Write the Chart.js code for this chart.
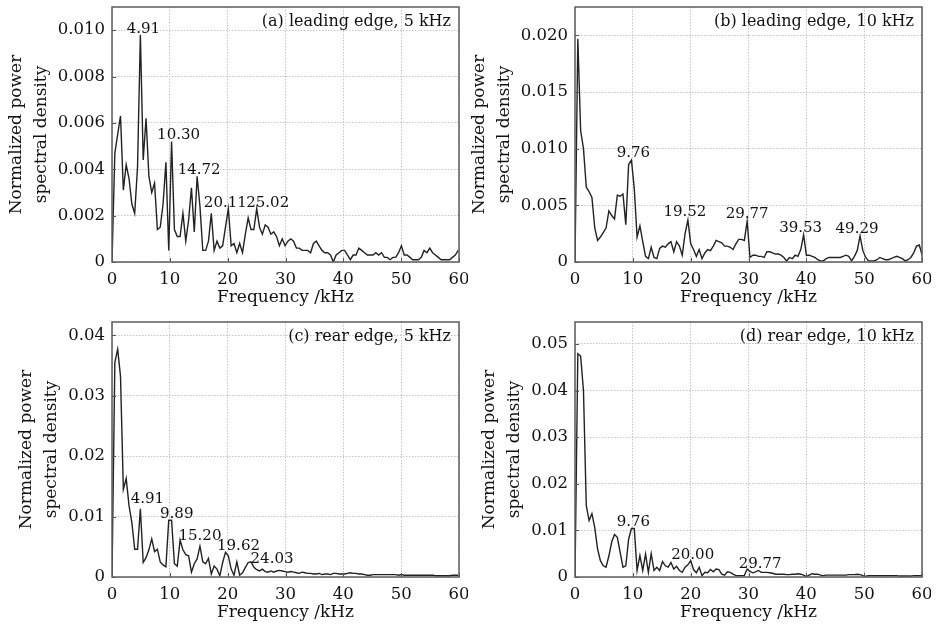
<!DOCTYPE html>
<html>
<head>
<meta charset="utf-8">
<script src="https://cdn.jsdelivr.net/npm/chart.js@4.4.0/dist/chart.umd.min.js"></script>
<style>
  body { margin: 0; background: #fff; }
  .panel { position: absolute; width: 468px; height: 311px; }
</style>
</head>
<body>
<div class="panel" style="left:0;top:0"><canvas id="chartA" width="468" height="311"></canvas></div>
<div class="panel" style="left:463px;top:0"><canvas id="chartB" width="468" height="311"></canvas></div>
<div class="panel" style="left:0;top:315px"><canvas id="chartC" width="468" height="311"></canvas></div>
<div class="panel" style="left:463px;top:315px"><canvas id="chartD" width="468" height="311"></canvas></div>
<script>
// frequency bin widths (kHz)
const binA = 0.4906, binB = 0.488, binC = 0.4906, binD = 0.488;

// normalized PSD, one value per frequency bin
const psdA = [0, 0.0047, 0.0055, 0.0063, 0.0031, 0.0042, 0.0036, 0.0025, 0.0021, 0.0041,
  0.0098, 0.0044, 0.0062, 0.0037, 0.0030, 0.0034, 0.0014, 0.0015, 0.0025, 0.0043,
  0.0005, 0.0052, 0.0014, 0.0011, 0.0011, 0.0021, 0.0009, 0.0018, 0.0032, 0.0013,
  0.0037, 0.0024, 0.0005, 0.0005, 0.0009, 0.0021, 0.0005, 0.0009, 0.0006, 0.0007,
  0.0015, 0.0023, 0.0007, 0.0008, 0.0004, 0.0008, 0.0004, 0.0012, 0.0019, 0.0014,
  0.0014, 0.0023, 0.0015, 0.0012, 0.0016, 0.0015, 0.0012, 0.0013, 0.0011, 0.0007,
  0.0010, 0.0007, 0.0009, 0.0010, 0.0009, 0.0006, 0.0006, 0.0005, 0.0005, 0.0005,
  0.0004, 0.0008, 0.0009, 0.0007, 0.0005, 0.0004, 0.0004, 0.0003, 0.0000, 0.0003,
  0.0004, 0.0005, 0.0005, 0.0003, 0.0001, 0.0003, 0.0003, 0.0006, 0.0005, 0.0004,
  0.0003, 0.0003, 0.0003, 0.0004, 0.0003, 0.0004, 0.0002, 0.0002, 0.0001, 0.0002,
  0.0002, 0.0004, 0.0007, 0.0003, 0.0003, 0.0002, 0.0001, 0.0001, 0.0001, 0.0002,
  0.0005, 0.0004, 0.0006, 0.0004, 0.0003, 0.0002, 0.0001, 0.0001, 0.0001, 0.0001,
  0.0002, 0.0003, 0.0005];

const psdB = [0, 0.0197, 0.0116, 0.0100, 0.0066, 0.0062, 0.0057, 0.0030, 0.0019, 0.0022,
  0.0026, 0.0030, 0.0045, 0.0041, 0.0038, 0.0059, 0.0058, 0.0060, 0.0033, 0.0086,
  0.0090, 0.0065, 0.0022, 0.0032, 0.0018, 0.0005, 0.0003, 0.0013, 0.0004, 0.0003,
  0.0012, 0.0014, 0.0013, 0.0016, 0.0018, 0.0009, 0.0018, 0.0014, 0.0006, 0.0025,
  0.0037, 0.0016, 0.0011, 0.0005, 0.0011, 0.0003, 0.0008, 0.0011, 0.0010, 0.0014,
  0.0019, 0.0018, 0.0017, 0.0014, 0.0014, 0.0013, 0.0011, 0.0016, 0.0020, 0.0020,
  0.0019, 0.0036, 0.0004, 0.0006, 0.0006, 0.0005, 0.0005, 0.0004, 0.0009, 0.0009,
  0.0008, 0.0007, 0.0007, 0.0006, 0.0004, 0.0001, 0.0004, 0.0003, 0.0006, 0.0005,
  0.0011, 0.0024, 0.0006, 0.0006, 0.0005, 0.0004, 0.0002, 0.0001, 0.0001, 0.0003,
  0.0004, 0.0004, 0.0004, 0.0004, 0.0004, 0.0005, 0.0006, 0.0005, 0.0001, 0.0005,
  0.0010, 0.0023, 0.0010, 0.0004, 0.0001, 0.0001, 0.0001, 0.0002, 0.0004, 0.0003,
  0.0002, 0.0002, 0.0003, 0.0004, 0.0005, 0.0004, 0.0003, 0.0001, 0.0002, 0.0004,
  0.0008, 0.0014, 0.0015, 0.0006];

const psdC = [0, 0.0355, 0.0377, 0.0332, 0.0145, 0.0163, 0.0118, 0.0090, 0.0046, 0.0046,
  0.0113, 0.0024, 0.0032, 0.0045, 0.0063, 0.0042, 0.0046, 0.0025, 0.0020, 0.0017,
  0.0094, 0.0094, 0.0022, 0.0018, 0.0061, 0.0045, 0.0037, 0.0035, 0.0008, 0.0022,
  0.0030, 0.0051, 0.0025, 0.0022, 0.0031, 0.0005, 0.0018, 0.0013, 0.0002, 0.0024,
  0.0041, 0.0035, 0.0013, 0.0003, 0.0025, 0.0003, 0.0007, 0.0016, 0.0024, 0.0025,
  0.0016, 0.0012, 0.0010, 0.0013, 0.0009, 0.0008, 0.0010, 0.0008, 0.0010, 0.0011,
  0.0010, 0.0009, 0.0008, 0.0009, 0.0008, 0.0007, 0.0006, 0.0008, 0.0007, 0.0006,
  0.0006, 0.0005, 0.0005, 0.0006, 0.0004, 0.0005, 0.0005, 0.0004, 0.0006, 0.0006,
  0.0005, 0.0005, 0.0005, 0.0006, 0.0007, 0.0006, 0.0006, 0.0005, 0.0005, 0.0004,
  0.0003, 0.0003, 0.0004, 0.0004, 0.0004, 0.0004, 0.0004, 0.0004, 0.0004, 0.0004,
  0.0004, 0.0003, 0.0004, 0.0003, 0.0003, 0.0003, 0.0003, 0.0003, 0.0003, 0.0003,
  0.0003, 0.0003, 0.0003, 0.0003, 0.0002, 0.0002, 0.0002, 0.0002, 0.0002, 0.0002,
  0.0003, 0.0003, 0.0003];

const psdD = [0, 0.0479, 0.0474, 0.0400, 0.0153, 0.0121, 0.0136, 0.0106, 0.0060, 0.0035,
  0.0024, 0.0021, 0.0045, 0.0075, 0.0091, 0.0085, 0.0053, 0.0021, 0.0024, 0.0081,
  0.0104, 0.0104, 0.0014, 0.0046, 0.0014, 0.0049, 0.0010, 0.0050, 0.0014, 0.0021,
  0.0014, 0.0033, 0.0024, 0.0021, 0.0031, 0.0017, 0.0023, 0.0014, 0.0010, 0.0021,
  0.0026, 0.0035, 0.0016, 0.0009, 0.0021, 0.0003, 0.0010, 0.0009, 0.0016, 0.0011,
  0.0017, 0.0016, 0.0006, 0.0004, 0.0011, 0.0010, 0.0006, 0.0003, 0.0003, 0.0003,
  0.0003, 0.0017, 0.0012, 0.0009, 0.0011, 0.0014, 0.0010, 0.0010, 0.0010, 0.0009,
  0.0008, 0.0006, 0.0006, 0.0006, 0.0006, 0.0005, 0.0005, 0.0006, 0.0006, 0.0007,
  0.0006, 0.0004, 0.0001, 0.0004, 0.0007, 0.0006, 0.0006, 0.0004, 0.0003, 0.0004,
  0.0004, 0.0004, 0.0004, 0.0004, 0.0004, 0.0004, 0.0004, 0.0005, 0.0005, 0.0005,
  0.0006, 0.0005, 0.0003, 0.0002, 0.0003, 0.0003, 0.0003, 0.0003, 0.0003, 0.0003,
  0.0003, 0.0003, 0.0003, 0.0003, 0.0003, 0.0002, 0.0002, 0.0002, 0.0002, 0.0002,
  0.0003, 0.0003, 0.0003, 0.0003];

// peak labels: bin index of the peak and its text
const peakIdxA = [10, 21, 30, 41, 51];
const peakTextA = ['4.91', '10.30', '14.72', '20.11', '25.02'];
const peakIdxB = [20, 40, 61, 81, 101];
const peakTextB = ['9.76', '19.52', '29.77', '39.53', '49.29'];
const peakIdxC = [10, 20, 31, 40, 49];
const peakTextC = ['4.91', '9.89', '15.20', '19.62', '24.03'];
const peakIdxD = [20, 41, 61];
const peakTextD = ['9.76', '20.00', '29.77'];

// axis ticks
const xTickVals = [0, 10, 20, 30, 40, 50, 60];
const xTickLabels = ['0', '10', '20', '30', '40', '50', '60'];
const yTickValsA = [0, 0.002, 0.004, 0.006, 0.008, 0.010];
const yTickLabelsA = ['0', '0.002', '0.004', '0.006', '0.008', '0.010'];
const yTickValsB = [0, 0.005, 0.010, 0.015, 0.020];
const yTickLabelsB = ['0', '0.005', '0.010', '0.015', '0.020'];
const yTickValsC = [0, 0.01, 0.02, 0.03, 0.04];
const yTickLabelsC = ['0', '0.01', '0.02', '0.03', '0.04'];
const yTickValsD = [0, 0.01, 0.02, 0.03, 0.04, 0.05];
const yTickLabelsD = ['0', '0.01', '0.02', '0.03', '0.04', '0.05'];

const panelLabels = ['(a) leading edge, 5 kHz', '(b) leading edge, 10 kHz',
  '(c) rear edge, 5 kHz', '(d) rear edge, 10 kHz'];

const FONT = "'DejaVu Serif', serif";
Chart.defaults.font.family = FONT;
Chart.defaults.color = '#111';

// frame, inward ticks, panel caption and peak labels
const framePlugin = {
  id: 'frame',
  afterDatasetsDraw(chart, args, opts) {
    const {ctx, chartArea: a, scales: {x, y}} = chart;
    ctx.save();
    ctx.strokeStyle = '#555';
    ctx.lineWidth = 1;
    ctx.beginPath();
    x.ticks.forEach(t => {
      const px = Math.round(x.getPixelForValue(t.value)) + 0.5;
      ctx.moveTo(px, a.bottom); ctx.lineTo(px, a.bottom - 4);
    });
    y.ticks.forEach(t => {
      const py = Math.round(y.getPixelForValue(t.value)) + 0.5;
      ctx.moveTo(a.left, py); ctx.lineTo(a.left + 4, py);
    });
    ctx.stroke();
    ctx.strokeStyle = '#5c5c5c';
    ctx.lineWidth = 1.5;
    ctx.strokeRect(a.left, a.top, a.right - a.left, a.bottom - a.top);

    ctx.fillStyle = '#111';
    ctx.font = '16px ' + FONT;
    ctx.textAlign = 'right';
    ctx.textBaseline = 'middle';
    ctx.fillText(opts.label, a.right - 8, a.top + 15);

    const meta = chart.getDatasetMeta(0);
    ctx.font = '15px ' + FONT;
    ctx.textAlign = 'center';
    ctx.textBaseline = 'alphabetic';
    opts.peaks.forEach((idx, k) => {
      const pt = meta.data[idx];
      ctx.fillText(opts.texts[k], pt.x + opts.dx[k], pt.y - opts.gap[k]);
    });
    ctx.restore();
  }
};

function makePanel(id, psd, bin, yMax, yVals, yLabels, peaks, texts, label, layout) {
  const points = psd.map((v, i) => ({x: i * bin, y: v}));
  return new Chart(document.getElementById(id), {
    type: 'line',
    data: {
      datasets: [{
        data: points,
        borderColor: '#222',
        borderWidth: 1.4,
        pointRadius: 0,
        tension: 0,
        fill: false
      }]
    },
    options: {
      responsive: false,
      animation: false,
      layout: {padding: {top: 7, right: 9, left: 0, bottom: 0}},
      plugins: {
        legend: {display: false},
        tooltip: {enabled: false},
        frame: {label: label, peaks: peaks, texts: texts, dx: layout.dx, gap: layout.gap}
      },
      scales: {
        x: {
          type: 'linear',
          min: 0,
          max: 60,
          afterBuildTicks: s => { s.ticks = xTickVals.map(v => ({value: v})); },
          afterFit: s => { s.height = 49; s.paddingLeft = 0; s.paddingRight = 0; },
          ticks: {
            autoSkip: false,
            maxRotation: 0,
            padding: 8,
            font: {size: 16.5},
            callback: (v, i) => xTickLabels[i]
          },
          grid: {color: '#c4c4c4', lineWidth: 1, drawTicks: false},
          border: {display: false, dash: [1.5, 1.5]},
          title: {
            display: true,
            text: 'Frequency /kHz',
            font: {size: 17, lineHeight: 1.2},
            padding: {top: 0, bottom: 3}
          }
        },
        y: {
          min: 0,
          max: yMax,
          afterBuildTicks: s => { s.ticks = yVals.map(v => ({value: v})); },
          afterFit: s => { s.width = 112; s.paddingTop = 0; s.paddingBottom = 0; },
          ticks: {
            autoSkip: false,
            padding: 7,
            font: {size: 16.5},
            callback: (v, i) => yLabels[i]
          },
          grid: {color: '#c4c4c4', lineWidth: 1, drawTicks: false},
          border: {display: false, dash: [1.5, 1.5]},
          title: {
            display: true,
            text: ['Normalized power', 'spectral density'],
            font: {size: 17, lineHeight: 1.47},
            padding: {top: layout.titlePad, bottom: 0}
          }
        }
      }
    },
    plugins: [framePlugin]
  });
}

makePanel('chartA', psdA, binA, 0.011, yTickValsA, yTickLabelsA, peakIdxA, peakTextA, panelLabels[0],
  {dx: [3, 7, 2, -3, 11], gap: [2, 2, 2, 2, 2], titlePad: 4.5});
makePanel('chartB', psdB, binB, 0.0225, yTickValsB, yTickLabelsB, peakIdxB, peakTextB, panelLabels[1],
  {dx: [2, -3, 0, -3, -3], gap: [3, 4, 3, 3, 3], titlePad: 4.5});
makePanel('chartC', psdC, binC, 0.0422, yTickValsC, yTickLabelsC, peakIdxC, peakTextC, panelLabels[2],
  {dx: [7, 8, 0, 13, 21], gap: [6, 2, 6, 2, -1], titlePad: 14.5});
makePanel('chartD', psdD, binD, 0.0547, yTickValsD, yTickLabelsD, peakIdxD, peakTextD, panelLabels[3],
  {dx: [2, 2, 13], gap: [3, 2, 1], titlePad: 14.5});
</script>
</body>
</html>
